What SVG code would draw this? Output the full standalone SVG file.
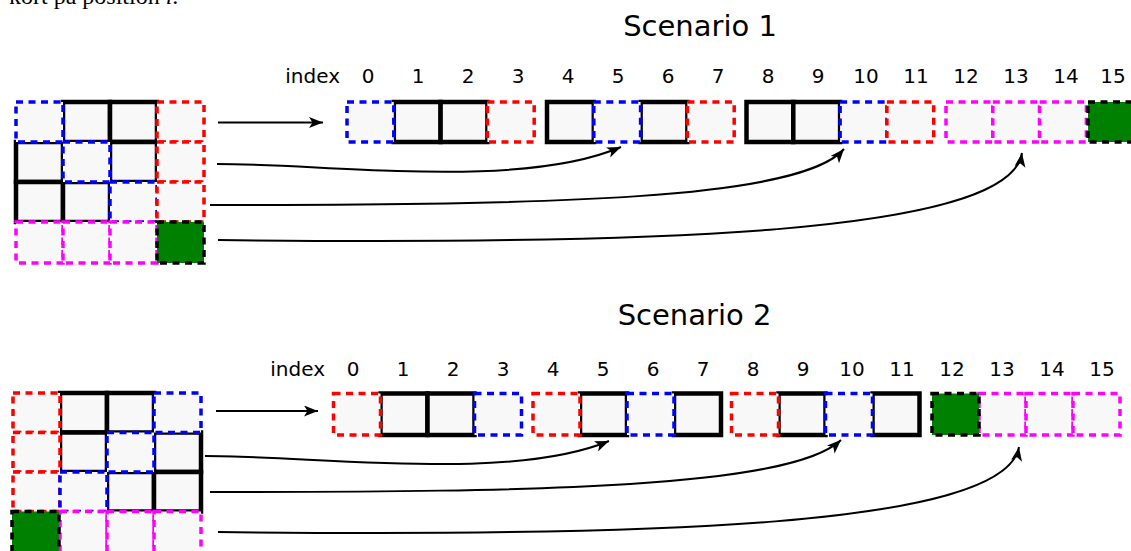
<svg xmlns="http://www.w3.org/2000/svg" width="1131" height="551" viewBox="0 0 1131 551">
  <style>
    text { font-family: "DejaVu Sans", "Liberation Sans", sans-serif; fill: #000; }
    .title { font-size: 29px; text-anchor: middle; }
    .idx { font-size: 20px; text-anchor: middle; }
    .lbl { font-size: 20px; text-anchor: end; }
    .note { font-family: "Liberation Serif", serif; font-size: 24px; }
    .blk { fill: #f8f8f8; stroke: #000; stroke-width: 4.5; }
    .blu { fill: #f8f8f8; stroke: #0000ff; stroke-width: 3.5; stroke-dasharray: 7 5.5; }
    .red { fill: #f8f8f8; stroke: #ff0000; stroke-width: 3.5; stroke-dasharray: 7 5.5; }
    .mag { fill: #f8f8f8; stroke: #ff00ff; stroke-width: 3.5; stroke-dasharray: 7 5.5; }
    .grn { fill: #008000; stroke: #000; stroke-width: 3.5; stroke-dasharray: 7 5.5; }
    .bg { fill: #f8f8f8; stroke: none; }
    .conn { fill: none; stroke: #000; stroke-width: 2; }
  </style>
  <defs>
    <marker id="head" markerUnits="userSpaceOnUse" markerWidth="15" markerHeight="12" refX="14" refY="5.5" orient="auto">
      <path d="M0,0 L14,5.5 L0,11 L3.5,5.5 Z" fill="#000"/>
    </marker>
  </defs>

  <rect width="1131" height="551" fill="#fff"/>

  <!-- running text clipped at the top edge -->
  <text class="note" x="9" y="4">kort på position <tspan font-style="italic">i</tspan>.</text>

  <!-- ===== Scenario 1 ===== -->
  <text class="title" x="700" y="36">Scenario 1</text>
  <g id="index1">
    <text class="lbl" x="340" y="83">index</text>
    <text class="idx" x="368" y="83">0</text>
    <text class="idx" x="418" y="83">1</text>
    <text class="idx" x="468" y="83">2</text>
    <text class="idx" x="518" y="83">3</text>
    <text class="idx" x="568" y="83">4</text>
    <text class="idx" x="618" y="83">5</text>
    <text class="idx" x="668" y="83">6</text>
    <text class="idx" x="718" y="83">7</text>
    <text class="idx" x="768" y="83">8</text>
    <text class="idx" x="818" y="83">9</text>
    <text class="idx" x="866" y="83">10</text>
    <text class="idx" x="916" y="83">11</text>
    <text class="idx" x="966" y="83">12</text>
    <text class="idx" x="1016" y="83">13</text>
    <text class="idx" x="1066" y="83">14</text>
    <text class="idx" x="1113" y="83">15</text>
  </g>

  <!-- 4x4 block, scenario 1 -->
  <g id="grid1">
    <rect class="bg" x="16" y="102" width="188" height="161"/>
    <rect class="blk" x="63" y="102" width="47" height="40"/>
    <rect class="blk" x="110" y="102" width="47" height="40"/>
    <rect class="blk" x="16" y="142" width="47" height="40"/>
    <rect class="blk" x="110" y="142" width="47" height="40"/>
    <rect class="blk" x="16" y="182" width="47" height="40"/>
    <rect class="blk" x="63" y="182" width="47" height="40"/>
    <rect class="blu" x="16" y="102" width="47" height="40"/>
    <rect class="red" x="157" y="102" width="47" height="40"/>
    <rect class="blu" x="63" y="142" width="47" height="40"/>
    <rect class="red" x="157" y="142" width="47" height="40"/>
    <rect class="blu" x="110" y="182" width="47" height="40"/>
    <rect class="red" x="157" y="182" width="47" height="40"/>
    <rect class="mag" x="16" y="222" width="47" height="41"/>
    <rect class="mag" x="63" y="222" width="47" height="41"/>
    <rect class="mag" x="110" y="222" width="47" height="41"/>
    <rect class="grn" x="157" y="222" width="47" height="41"/>
  </g>

  <!-- linear layout, scenario 1 -->
  <g id="strip1">
    <rect class="blk" x="393.8" y="102" width="46.8" height="40"/>
    <rect class="blk" x="440.6" y="102" width="46.8" height="40"/>
    <rect class="blk" x="547" y="102" width="46.8" height="40"/>
    <rect class="blk" x="640.6" y="102" width="46.8" height="40"/>
    <rect class="blk" x="746.5" y="102" width="46.8" height="40"/>
    <rect class="blk" x="793.3" y="102" width="46.8" height="40"/>
    <rect class="blu" x="347" y="102" width="46.8" height="40"/>
    <rect class="red" x="487.4" y="102" width="46.8" height="40"/>
    <rect class="blu" x="593.8" y="102" width="46.8" height="40"/>
    <rect class="red" x="687.4" y="102" width="46.8" height="40"/>
    <rect class="blu" x="840.1" y="102" width="46.8" height="40"/>
    <rect class="red" x="886.9" y="102" width="46.8" height="40"/>
    <rect class="mag" x="946" y="102" width="46.8" height="40"/>
    <rect class="mag" x="992.8" y="102" width="46.8" height="40"/>
    <rect class="mag" x="1039.6" y="102" width="46.8" height="40"/>
    <rect class="grn" x="1088" y="102" width="46.8" height="40"/>
  </g>

  <!-- ===== Scenario 2 ===== -->
  <text class="title" x="694.5" y="325">Scenario 2</text>
  <g id="index2">
    <text class="lbl" x="325" y="376">index</text>
    <text class="idx" x="353" y="376">0</text>
    <text class="idx" x="403" y="376">1</text>
    <text class="idx" x="453" y="376">2</text>
    <text class="idx" x="503" y="376">3</text>
    <text class="idx" x="553" y="376">4</text>
    <text class="idx" x="603" y="376">5</text>
    <text class="idx" x="653" y="376">6</text>
    <text class="idx" x="703" y="376">7</text>
    <text class="idx" x="753" y="376">8</text>
    <text class="idx" x="803" y="376">9</text>
    <text class="idx" x="852" y="376">10</text>
    <text class="idx" x="902" y="376">11</text>
    <text class="idx" x="952" y="376">12</text>
    <text class="idx" x="1002" y="376">13</text>
    <text class="idx" x="1052" y="376">14</text>
    <text class="idx" x="1102" y="376">15</text>
  </g>

  <!-- 4x4 block, scenario 2 -->
  <g id="grid2">
    <rect class="bg" x="13" y="393" width="188" height="158"/>
    <rect class="blk" x="60" y="393" width="47" height="39.5"/>
    <rect class="blk" x="107" y="393" width="47" height="39.5"/>
    <rect class="blk" x="60" y="432.5" width="47" height="39.5"/>
    <rect class="blk" x="154" y="432.5" width="47" height="39.5"/>
    <rect class="blk" x="107" y="472" width="47" height="39.5"/>
    <rect class="blk" x="154" y="472" width="47" height="39.5"/>
    <rect class="red" x="13" y="393" width="47" height="39.5"/>
    <rect class="blu" x="154" y="393" width="47" height="39.5"/>
    <rect class="red" x="13" y="432.5" width="47" height="39.5"/>
    <rect class="blu" x="107" y="432.5" width="47" height="39.5"/>
    <rect class="red" x="13" y="472" width="47" height="39.5"/>
    <rect class="blu" x="60" y="472" width="47" height="39.5"/>
    <rect class="mag" x="60" y="511.5" width="47" height="42"/>
    <rect class="mag" x="107" y="511.5" width="47" height="42"/>
    <rect class="mag" x="154" y="511.5" width="47" height="42"/>
    <rect class="grn" x="12" y="511.5" width="47" height="42"/>
  </g>

  <!-- linear layout, scenario 2 -->
  <g id="strip2">
    <rect class="blk" x="380.5" y="393.5" width="47" height="41.5"/>
    <rect class="blk" x="427.5" y="393.5" width="47" height="41.5"/>
    <rect class="blk" x="580" y="393.5" width="47" height="41.5"/>
    <rect class="blk" x="674" y="393.5" width="47" height="41.5"/>
    <rect class="blk" x="778.5" y="393.5" width="47" height="41.5"/>
    <rect class="blk" x="872.5" y="393.5" width="47" height="41.5"/>
    <rect class="red" x="333.5" y="393.5" width="47" height="41.5"/>
    <rect class="blu" x="474.5" y="393.5" width="47" height="41.5"/>
    <rect class="red" x="533" y="393.5" width="47" height="41.5"/>
    <rect class="blu" x="627" y="393.5" width="47" height="41.5"/>
    <rect class="red" x="731.5" y="393.5" width="47" height="41.5"/>
    <rect class="blu" x="825.5" y="393.5" width="47" height="41.5"/>
    <rect class="mag" x="979" y="393.5" width="47" height="41.5"/>
    <rect class="mag" x="1026" y="393.5" width="47" height="41.5"/>
    <rect class="mag" x="1073" y="393.5" width="47" height="41.5"/>
    <rect class="grn" x="932" y="393.5" width="47" height="41.5"/>
  </g>

  <!-- row-to-position connectors -->
  <g id="connectors">
    <path class="conn" marker-end="url(#head)" d="M218,122.5 L323,122.5"/>
    <path class="conn" marker-end="url(#head)" d="M217,164 C330,164 520,190 621,147"/>
    <path class="conn" marker-end="url(#head)" d="M210,205 C550,205 800,200 844,149"/>
    <path class="conn" marker-end="url(#head)" d="M218,240 C650,245 1010,235 1022,153"/>

    <path class="conn" marker-end="url(#head)" d="M216,411 L318,411"/>
    <path class="conn" marker-end="url(#head)" d="M205,456 C320,456 510,482 609,441"/>
    <path class="conn" marker-end="url(#head)" d="M210,492 C540,492 790,488 841,440"/>
    <path class="conn" marker-end="url(#head)" d="M218,532 C650,537 1005,527 1019,447"/>
  </g>
</svg>
